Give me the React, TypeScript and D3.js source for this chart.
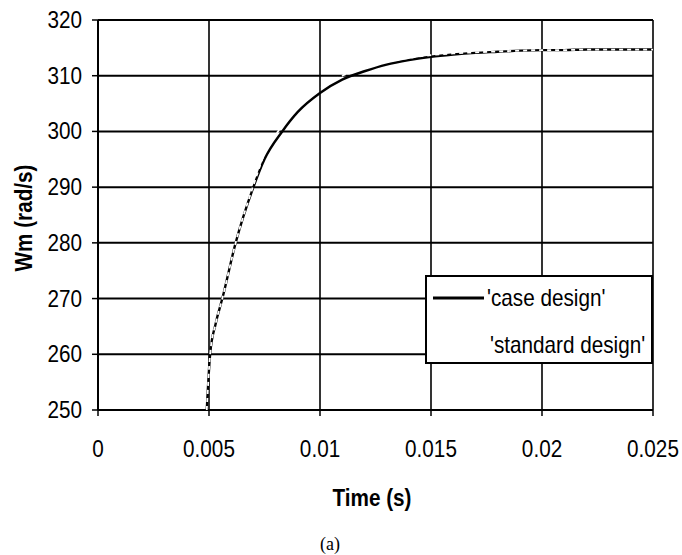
import React from "react";
import * as d3 from "d3";

// Rotor speed response Wm(t) for the two designs
const timeCase = [0.0049, 0.00505, 0.0053, 0.0056, 0.0062, 0.007, 0.0075, 0.0083, 0.009, 0.01, 0.011, 0.012, 0.013, 0.014, 0.015, 0.016, 0.017, 0.018, 0.019, 0.02, 0.021, 0.022, 0.023, 0.024, 0.025];
const speedCase = [250, 260, 265.5, 270, 280, 290, 295, 300, 303.5, 306.9, 309.3, 310.8, 312.0, 312.8, 313.4, 313.8, 314.1, 314.3, 314.5, 314.6, 314.6, 314.7, 314.7, 314.7, 314.7];

const timeStandard = [0.0049, 0.00505, 0.0053, 0.0056, 0.0062, 0.007, 0.0075, 0.0083, 0.009, 0.01, 0.011, 0.012, 0.013, 0.014, 0.015, 0.016, 0.017, 0.018, 0.019, 0.02, 0.021, 0.022, 0.023, 0.024, 0.025];
const speedStandard = [250, 260, 265.5, 270, 280, 290.3, 296.0, 301.0, 304.5, 307.7, 310.0, 311.4, 312.5, 313.2, 313.7, 314.0, 314.2, 314.35, 314.5, 314.6, 314.6, 314.7, 314.7, 314.7, 314.7];

const xTicks = [0, 0.005, 0.01, 0.015, 0.02, 0.025];
const xTickLabels = ["0", "0.005", "0.01", "0.015", "0.02", "0.025"];
const yTicks = [250, 260, 270, 280, 290, 300, 310, 320];

const seriesNames = ["'case design'", "'standard design'"];

const W = 682;
const H = 555;
const FONT = "'Liberation Sans', Arial, sans-serif";
const SQUEEZE = 0.9;

type NTextProps = {
  x: number;
  y: number;
  anchor?: "start" | "middle" | "end";
  bold?: boolean;
  rotate?: number;
  children: React.ReactNode;
};

// Condensed sans label: regular face squeezed horizontally
function NText({ x, y, anchor = "start", bold = false, rotate = 0, children }: NTextProps) {
  return (
    <text
      transform={`translate(${x},${y}) rotate(${rotate}) scale(${SQUEEZE},1)`}
      textAnchor={anchor}
      fontFamily={FONT}
      fontWeight={bold ? "bold" : "normal"}
      fontSize={23}
      fill="#000"
    >
      {children}
    </text>
  );
}

export default function App() {
  const x = d3.scaleLinear().domain([0, 0.025]).range([98, 653]);
  const y = d3.scaleLinear().domain([250, 320]).range([410, 20]);

  const line = d3
    .line<[number, number]>()
    .x((d) => x(d[0]))
    .y((d) => y(d[1]))
    .curve(d3.curveMonotoneX);

  const casePts: [number, number][] = timeCase.map((t, i) => [t, speedCase[i]]);
  const stdPts: [number, number][] = timeStandard.map((t, i) => [t, speedStandard[i]]);

  const [x0, x1] = x.range();
  const [y0, y1] = y.range();

  const legend = { left: 426, top: 276, right: 652, bottom: 363 };

  return (
    <svg
      width={W}
      height={H}
      viewBox={`0 0 ${W} ${H}`}
      style={{ position: "absolute", left: 0, top: 0, background: "#fff" }}
    >
      <rect x={0} y={0} width={W} height={H} fill="#fff" />

      {/* horizontal gridlines */}
      {yTicks.map((v) => (
        <line key={`hy${v}`} x1={x0} x2={x1} y1={y(v)} y2={y(v)} stroke="#000" strokeWidth={2} />
      ))}
      {/* vertical gridlines */}
      {xTicks.map((v) => (
        <line key={`vx${v}`} x1={x(v)} x2={x(v)} y1={y0} y2={y1} stroke="#000" strokeWidth={1.6} />
      ))}

      {/* axis ticks */}
      {yTicks.map((v) => (
        <line key={`ty${v}`} x1={x0 - 6} x2={x0} y1={y(v)} y2={y(v)} stroke="#000" strokeWidth={1.5} />
      ))}
      {xTicks.map((v) => (
        <line key={`tx${v}`} x1={x(v)} x2={x(v)} y1={y0} y2={y0 + 6} stroke="#000" strokeWidth={1.5} />
      ))}
      <line x1={x0} x2={x0} y1={y1} y2={y0} stroke="#000" strokeWidth={2} />

      {/* series */}
      <path d={line(casePts) ?? ""} fill="none" stroke="#000" strokeWidth={2.4} />
      <path d={line(stdPts) ?? ""} fill="none" stroke="#fff" strokeWidth={1.8} strokeDasharray="4,4" />

      {/* tick labels */}
      {yTicks.map((v) => (
        <NText key={`ly${v}`} x={82} y={y(v) + 8} anchor="end">
          {v}
        </NText>
      ))}
      {xTicks.map((v, i) => (
        <NText key={`lx${v}`} x={x(v)} y={457} anchor="middle">
          {xTickLabels[i]}
        </NText>
      ))}

      {/* axis titles */}
      <NText x={372} y={506} anchor="middle" bold>
        Time (s)
      </NText>
      <NText x={32} y={218} anchor="middle" bold rotate={-90}>
        Wm (rad/s)
      </NText>

      {/* legend */}
      <rect
        x={legend.left}
        y={legend.top}
        width={legend.right - legend.left}
        height={legend.bottom - legend.top}
        fill="#fff"
        stroke="#000"
        strokeWidth={2}
      />
      <line x1={433} x2={484} y1={298} y2={298} stroke="#000" strokeWidth={3} />
      <NText x={487} y={306}>
        {seriesNames[0]}
      </NText>
      <line x1={433} x2={484} y1={345} y2={345} stroke="#fff" strokeWidth={1.8} strokeDasharray="4,4" />
      <NText x={490} y={353}>
        {seriesNames[1]}
      </NText>

      {/* panel caption */}
      <text
        x={330}
        y={550}
        textAnchor="middle"
        fontFamily="'Liberation Serif', 'Times New Roman', serif"
        fontSize={18}
        fill="#000"
      >
        (a)
      </text>
    </svg>
  );
}
